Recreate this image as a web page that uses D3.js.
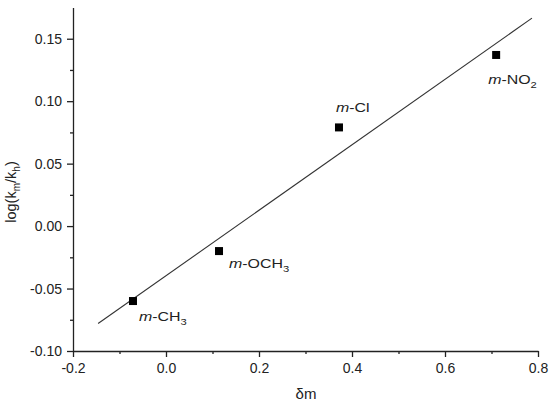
<!DOCTYPE html>
<html>
<head>
<meta charset="utf-8">
<script src="https://cdn.jsdelivr.net/npm/d3@7"></script>
<style>
  body { margin: 0; background: #fff; }
  svg { font-family: "Liberation Sans", Arial, sans-serif; }
</style>
</head>
<body>
<svg></svg>
<script>
// substituent data (Hammett sigma_m vs log(km/kh))
var subst = ["CH3", "OCH3", "Cl", "NO2"];
var sigma = [-0.071, 0.114, 0.372, 0.710];
var logK = [-0.060, -0.020, 0.079, 0.137];

// fitted line, two ends
var fitX = [-0.146, 0.787];
var fitY = [-0.078, 0.1665];

var xTicks = [-0.2, 0.0, 0.2, 0.4, 0.6, 0.8];
var yTicks = [-0.10, -0.05, 0.00, 0.05, 0.10, 0.15];

const W = 550, H = 405;
const ink = "#222";

var svg = d3.select('svg')
    .attr('width', W)
    .attr('height', H);

//scales
var x = d3.scaleLinear().domain([-0.2, 0.8]).range([73, 538]);
var y = d3.scaleLinear().domain([-0.1, 0.175]).range([351, 7.5]);

//minor ticks first so the major ones draw on top
svg.append('g')
    .attr('transform', 'translate(0,351)')
    .call(d3.axisBottom(x).tickValues(d3.range(-0.1, 0.8, 0.2)).tickSize(3).tickFormat(''))
    .call(g => g.select('.domain').remove());
svg.append('g')
    .attr('transform', 'translate(73,0)')
    .call(d3.axisLeft(y).tickValues(d3.range(-0.075, 0.17, 0.05)).tickSize(3).tickFormat(''))
    .call(g => g.select('.domain').remove());

var xAxis = svg.append('g')
    .attr('transform', 'translate(0,351)')
    .call(d3.axisBottom(x).tickValues(xTicks).tickSize(6).tickSizeOuter(0).tickPadding(6)
        .tickFormat(d => d.toFixed(1)));

var yAxis = svg.append('g')
    .attr('transform', 'translate(73,0)')
    .call(d3.axisLeft(y).tickValues(yTicks).tickSize(6).tickSizeOuter(0).tickPadding(5)
        .tickFormat(d => d.toFixed(2)));

svg.selectAll('.domain, .tick line')
    .attr('stroke', ink)
    .attr('stroke-width', 1.3);

svg.selectAll('.tick text')
    .attr('fill', ink)
    .style('font-size', '14px')
    .style('font-family', '"Liberation Sans", Arial, sans-serif');

//axis titles
svg.append('text')
    .attr('x', 306)
    .attr('y', 399)
    .attr('text-anchor', 'middle')
    .attr('fill', ink)
    .style('font-size', '15px')
    .text('δm');

var yl = svg.append('text')
    .attr('transform', 'translate(16,192) rotate(-90)')
    .attr('text-anchor', 'middle')
    .attr('fill', ink)
    .style('font-size', '14.5px');
yl.append('tspan').text('log(k');
yl.append('tspan').attr('dy', 4).style('font-size', '10px').text('m');
yl.append('tspan').attr('dy', -4).text('/k');
yl.append('tspan').attr('dy', 4).style('font-size', '10px').text('h');
yl.append('tspan').attr('dy', -4).text(')');

//fit line
svg.append('line')
    .attr('x1', x(fitX[0])).attr('y1', y(fitY[0]))
    .attr('x2', x(fitX[1])).attr('y2', y(fitY[1]))
    .attr('stroke', '#333')
    .attr('stroke-width', 1.1);

//points
var pts = subst.map((s, i) => ({ name: s, sx: sigma[i], ly: logK[i] }));

svg.selectAll('rect.pt')
    .data(pts)
    .enter()
    .append('rect')
    .attr('class', 'pt')
    .attr('x', d => x(d.sx) - 4)
    .attr('y', d => y(d.ly) - 4)
    .attr('width', 8)
    .attr('height', 8)
    .attr('fill', '#000');

//label offsets from each point, in px (labels in the original are drawn a bit wide)
var labelOff = [[6, 20], [10, 17], [-3, -15], [-8, 29]];

var lab = svg.selectAll('text.lab')
    .data(pts)
    .enter()
    .append('text')
    .attr('class', 'lab')
    .attr('transform', (d, i) =>
        `translate(${x(d.sx) + labelOff[i][0]},${y(d.ly) + labelOff[i][1]}) scale(1.18,1)`)
    .attr('fill', ink)
    .style('font-size', '13.5px');

lab.append('tspan').style('font-style', 'italic').text('m');
lab.append('tspan').text(d => '-' + d.name.replace(/\d+$/, ''));
lab.append('tspan')
    .attr('dy', 4)
    .style('font-size', '9.5px')
    .text(d => (d.name.match(/\d+$/) || [''])[0]);
</script>
</body>
</html>
